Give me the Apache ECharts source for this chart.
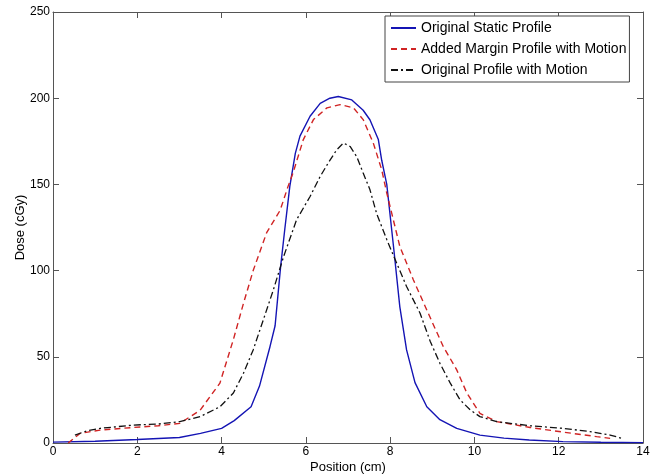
<!DOCTYPE html>
<html>
<head>
<meta charset="utf-8">
<script src="https://cdn.jsdelivr.net/npm/echarts@6/dist/echarts.min.js"></script>
<style>
html,body{margin:0;padding:0;background:#fff;}
#chart{width:650px;height:476px;}
</style>
</head>
<body>
<div id="chart"></div>
<script>
// Tick values
var xTicks = [0, 2, 4, 6, 8, 10, 12, 14];
var yTicks = [0, 50, 100, 150, 200, 250];

// Series names
var seriesNames = ['Original Static Profile', 'Added Margin Profile with Motion', 'Original Profile with Motion'];

// Original Static Profile
var staticX = [0, 1, 2, 3, 3.5, 4, 4.3, 4.7, 4.9, 5.15, 5.27, 5.4, 5.5, 5.62, 5.75, 5.86, 6.1, 6.34, 6.57, 6.77, 7.09, 7.36, 7.52, 7.72, 7.8, 7.92, 8.08, 8.23, 8.39, 8.59, 8.87, 9.18, 9.58, 10.13, 10.7, 11.3, 12.1, 13, 14];
var staticY = [0.5, 1, 2, 3.2, 5.6, 8.5, 13, 21, 33, 56, 68, 102, 124, 149, 168, 178, 189.5, 197, 200, 201, 199, 193, 187.5, 176, 164, 150, 114, 79, 54, 35, 21, 13.5, 8.5, 4.6, 2.8, 1.7, 0.8, 0.4, 0.2];

// Added Margin Profile with Motion
var marginX = [0.36, 0.64, 1.12, 1.9, 2.5, 3.01, 3.49, 3.96, 4.28, 4.52, 4.75, 5.07, 5.39, 5.58, 5.7, 5.94, 6.18, 6.5, 6.81, 7.13, 7.36, 7.6, 7.8, 7.92, 8.04, 8.23, 8.55, 9.0, 9.26, 9.58, 9.82, 10.13, 10.53, 11.32, 12.11, 12.9, 13.22];
var marginY = [0, 5.6, 7.5, 9, 10, 11.4, 19, 34.7, 60, 81, 100, 122, 135, 149, 157, 176, 187.6, 194.4, 196.3, 194.4, 187.6, 174, 158.5, 145, 133, 114, 94.7, 70, 56, 42.4, 29, 17.2, 12.4, 9, 6.3, 3.7, 2.7];

// Original Profile with Motion
var motionX = [0.52, 0.8, 1.12, 1.9, 2.5, 3.01, 3.49, 3.96, 4.28, 4.52, 4.75, 4.99, 5.23, 5.47, 5.78, 6.1, 6.34, 6.53, 6.73, 6.89, 7.05, 7.21, 7.36, 7.52, 7.68, 7.92, 8.16, 8.39, 8.71, 8.95, 9.18, 9.42, 9.66, 9.9, 10.13, 10.53, 11.32, 12.11, 12.74, 13.22, 13.5];
var motionY = [4.6, 7, 8.5, 10.4, 11, 12.4, 15.3, 21, 29, 40.5, 54, 71.4, 88.9, 108, 129.5, 143, 154.6, 162.4, 170, 174, 172, 166, 156.6, 147, 133, 118, 104, 90.8, 75.3, 59, 46.3, 35, 25, 19.2, 15.3, 12.4, 10, 8.5, 6.6, 4.6, 2.7];

function zip(xs, ys) { return xs.map(function (x, i) { return [x, ys[i]]; }); }

var FONT = '"Liberation Sans", Arial, sans-serif';
var axisLineStyle = { color: '#555', width: 1 };

var chart = echarts.init(document.getElementById('chart'), null, { renderer: 'canvas' });
chart.setOption({
  animation: false,
  backgroundColor: '#fff',
  textStyle: { fontFamily: FONT },
  grid: { left: 53, right: 7, top: 12, bottom: 33, containLabel: false, outerBoundsMode: 'none' },
  legend: {
    left: 385, top: 16,
    orient: 'vertical',
    data: seriesNames,
    backgroundColor: '#fff',
    borderColor: '#444', borderWidth: 1, borderRadius: 0,
    padding: [5, 3, 5, 5],
    itemWidth: 25, itemHeight: 14, itemGap: 7,
    itemStyle: { opacity: 0, borderWidth: 0 },
    textStyle: { fontSize: 14, color: '#000', fontFamily: FONT }
  },
  xAxis: [{
    type: 'value', min: xTicks[0], max: xTicks[xTicks.length - 1], interval: xTicks[1] - xTicks[0],
    position: 'bottom',
    name: 'Position (cm)', nameLocation: 'middle', nameGap: 18, nameMoveOverlap: false,
    nameTextStyle: { fontSize: 13, color: '#000', fontFamily: FONT },
    axisLine: { show: true, onZero: false, lineStyle: axisLineStyle },
    axisTick: { show: true, inside: true, length: 6, lineStyle: axisLineStyle },
    axisLabel: { fontSize: 12, color: '#000', margin: 3, fontFamily: FONT },
    splitLine: { show: false }
  }, {
    type: 'value', min: xTicks[0], max: xTicks[xTicks.length - 1], interval: xTicks[1] - xTicks[0],
    position: 'top',
    axisLine: { show: true, onZero: false, lineStyle: axisLineStyle },
    axisTick: { show: true, inside: true, length: 6, lineStyle: axisLineStyle },
    axisLabel: { show: false },
    splitLine: { show: false }
  }],
  yAxis: [{
    type: 'value', min: yTicks[0], max: yTicks[yTicks.length - 1], interval: yTicks[1] - yTicks[0],
    position: 'left',
    name: 'Dose (cGy)', nameLocation: 'middle', nameGap: 26, nameMoveOverlap: false,
    nameTextStyle: { fontSize: 13, color: '#000', fontFamily: FONT },
    axisLine: { show: true, onZero: false, lineStyle: axisLineStyle },
    axisTick: { show: true, inside: true, length: 6, lineStyle: axisLineStyle },
    axisLabel: { fontSize: 12, color: '#000', margin: 3, fontFamily: FONT },
    splitLine: { show: false }
  }, {
    type: 'value', min: yTicks[0], max: yTicks[yTicks.length - 1], interval: yTicks[1] - yTicks[0],
    position: 'right',
    axisLine: { show: true, onZero: false, lineStyle: axisLineStyle },
    axisTick: { show: true, inside: true, length: 6, lineStyle: axisLineStyle },
    axisLabel: { show: false },
    splitLine: { show: false }
  }],
  series: [{
    name: seriesNames[0], type: 'line', xAxisIndex: 0, yAxisIndex: 0,
    data: zip(staticX, staticY), symbol: 'none', smooth: false,
    lineStyle: { color: '#1414b4', width: 1.4, type: 'solid' },
    itemStyle: { color: '#1414b4' }
  }, {
    name: seriesNames[1], type: 'line', xAxisIndex: 0, yAxisIndex: 0,
    data: zip(marginX, marginY), symbol: 'none', smooth: false,
    lineStyle: { color: '#d02424', width: 1.4, type: [6, 4] },
    itemStyle: { color: '#d02424' }
  }, {
    name: seriesNames[2], type: 'line', xAxisIndex: 0, yAxisIndex: 0,
    data: zip(motionX, motionY), symbol: 'none', smooth: false,
    lineStyle: { color: '#111', width: 1.3, type: [7, 3, 2, 3] },
    itemStyle: { color: '#111' }
  }]
});
</script>
</body>
</html>
